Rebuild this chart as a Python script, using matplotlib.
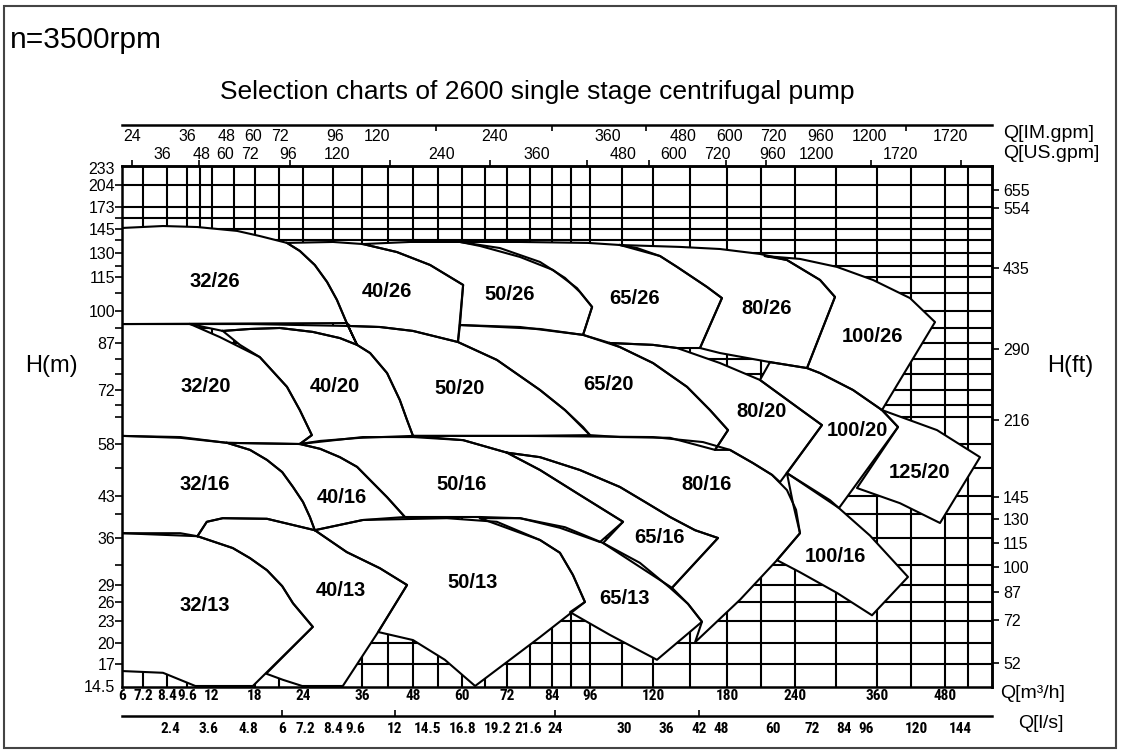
import numpy as np
import matplotlib
matplotlib.use("Agg")
import matplotlib.pyplot as plt
from matplotlib import font_manager
from matplotlib.ticker import FixedLocator, NullLocator, FixedFormatter
from matplotlib.patches import Rectangle

# ---------------------------------------------------------------- data
# axis tick values
Q_M3H_TICKS = [6, 7.2, 8.4, 9.6, 12, 18, 24, 36, 48, 60, 72, 84, 96, 120, 180, 240, 360, 480]
Q_LS_TICKS = [2.4, 3.6, 4.8, 6, 7.2, 8.4, 9.6, 12, 14.5, 16.8, 19.2, 21.6, 24, 30, 36, 42, 48,
              60, 72, 84, 96, 120, 144]
Q_IM_TICKS = [24, 36, 48, 60, 72, 96, 120, 240, 360, 480, 600, 720, 960, 1200, 1720]
Q_US_TICKS = [36, 48, 60, 72, 96, 120, 240, 360, 480, 600, 720, 960, 1200, 1720]
H_M_TICKS = [14.5, 17, 20, 23, 26, 29, 36, 43, 58, 72, 87, 100, 115, 130, 145, 173, 204, 233]
H_FT_TICKS = [52, 72, 87, 100, 115, 130, 145, 216, 290, 435, 554, 655]
# unlabeled tick marks
IM_MINOR = [180, 300, 420, 1440]
US_MINOR = [27, 47, 97, 180, 300, 430, 540, 760, 930, 1540, 2100]
LS_MARKS = [6, 12, 24, 42]
# background grid
Q_GRID = [7.2, 8.4, 9.6, 10.8, 12, 15, 18, 21, 24, 30, 36, 42, 48, 54, 60, 66, 72, 78, 84, 90,
          96, 108, 120, 150, 180, 210, 240, 300, 360, 420, 480, 520]
H_GRID = [17, 20, 23, 26, 29, 32, 36, 40, 43, 51, 58, 65, 68, 72, 77, 82, 87, 93, 100, 108,
          115, 122, 130, 138, 145, 159, 173, 204]

# pump regions: Q [m3/h], H [m]
P32_26_Q = [6, 8.2, 10.6, 15.5, 18.6, 22.0, 23.6, 26.4, 28.9, 30.9, 32.9, 35.0, 32.9, 6]
P32_26_H = [146.3, 148.8, 147.5, 143.8, 140.6, 136.3, 131.3, 122.5, 112.8, 104.9, 95.1, 86.4, 95.1, 94.7]
P40_26_Q = [22.0, 30.1, 36.2, 44.2, 52.2, 60.3, 59.0, 48.0, 40.2, 33.6, 32.9, 30.9, 28.9, 26.4, 23.6]
P40_26_H = [136.3, 136.9, 135.6, 130.6, 122.5, 111.5, 87.4, 91.9, 93.5, 93.9, 95.1, 104.9, 112.8, 122.5, 131.3]
P50_26_Q = [36.2, 47.3, 59.5, 70.1, 80.8, 88.1, 92.8, 96.8, 93.8, 80.8, 70.1, 59.5, 60.3, 52.2, 44.2]
P50_26_H = [135.6, 136.9, 136.9, 133.1, 124.4, 114.6, 108.4, 101.8, 90.3, 92.7, 93.5, 94.3, 111.5, 122.5, 130.6]
P65_26_Q = [59.5, 75.5, 95.4, 107.4, 113.9, 125.7, 139.5, 163.8, 175.9, 158.1, 139.5, 120.0, 103.6,
            93.8, 96.8, 91.9, 84.3, 75.5, 64.8]
P65_26_H = [136.9, 136.9, 136.3, 135.0, 133.1, 128.1, 121.3, 110.6, 105.7, 85.4, 85.4, 86.4, 87.0,
            90.3, 101.8, 110.1, 119.4, 127.5, 134.4]
P80_26_Q = [107.4, 141.9, 174.3, 209.1, 232.9, 276.6, 298.5, 257.6, 217.9, 174.3, 158.1, 175.9, 163.8, 139.5, 125.7]
P80_26_H = [135.0, 133.8, 132.5, 129.4, 125.6, 113.7, 106.2, 79.0, 80.9, 83.8, 85.4, 105.7, 110.6, 121.3, 128.1]
P100_26_Q = [213.5, 247.3, 301.5, 354.1, 418.2, 462.4, 368.8, 324.9, 276.6, 257.6, 298.5, 276.6, 232.9]
P100_26_H = [128.1, 126.3, 121.3, 113.7, 105.7, 95.5, 66.8, 72.0, 77.4, 79.0, 106.2, 113.7, 125.6]

P32_20_Q = [6, 9.9, 13.1, 18.6, 22.0, 23.6, 25.8, 23.6, 14.1, 9.2, 6]
P32_20_H = [94.7, 94.7, 89.4, 82.5, 73.0, 66.8, 60.3, 58.0, 58.3, 59.6, 60.1]
P40_20_Q = [13.5, 17.3, 21.1, 26.0, 31.5, 35.0, 37.9, 41.9, 44.9, 46.6, 48.0, 35.6, 27.5, 23.6,
            25.8, 23.6, 22.0, 18.6, 15.9]
P40_20_H = [91.9, 92.7, 93.1, 91.5, 89.0, 86.4, 83.8, 77.4, 69.4, 64.2, 60.1, 59.6, 58.8, 58.0,
            60.3, 66.8, 73.0, 82.5, 86.4]
P50_20_Q = [9.9, 17.3, 23.6, 33.6, 40.2, 48.0, 59.0, 69.3, 80.8, 88.1, 93.8, 96.0, 75.5, 59.5, 48.0,
            46.6, 44.9, 41.9, 37.9, 35.0, 31.5, 26.0, 21.1, 17.3, 13.5]
P50_20_H = [94.7, 94.7, 94.3, 93.9, 93.5, 91.9, 87.4, 81.6, 72.0, 66.8, 62.4, 60.3, 60.1, 60.1, 60.1,
            64.2, 69.4, 77.4, 83.8, 86.4, 89.0, 91.5, 93.1, 92.7, 91.9]
P65_20_Q = [59.5, 75.5, 93.8, 107.4, 120.0, 147.6, 166.2, 180.9, 170.3, 133.8, 107.4, 96.0, 88.1, 80.8, 69.3, 59.0]
P65_20_H = [94.3, 93.5, 90.3, 85.7, 80.6, 73.0, 66.8, 61.6, 56.3, 59.6, 59.8, 60.3, 66.8, 72.0, 81.6, 87.4]
P80_20_Q = [103.6, 120.0, 139.5, 174.3, 209.1, 242.9, 279.5, 247.3, 226.8, 219.7, 202.9, 182.6,
            170.3, 180.9, 166.2, 147.6, 120.0, 107.4]
P80_20_H = [87.0, 86.4, 85.4, 80.6, 75.2, 67.6, 62.9, 54.8, 47.0, 49.1, 52.5, 56.3,
            56.3, 61.6, 66.8, 73.0, 80.6, 85.7]
P100_20_Q = [217.9, 257.6, 276.6, 324.9, 368.8, 397.1, 304.4, 232.9, 279.5, 242.9, 209.1]
P100_20_H = [80.9, 79.0, 77.4, 72.0, 66.8, 62.4, 41.0, 49.6, 62.9, 67.6, 75.2]
P125_20_Q = [368.8, 465.9, 541.8, 471.2, 400.6, 330.7, 397.1]
P125_20_H = [66.8, 61.6, 54.2, 38.5, 41.8, 45.3, 62.4]

P32_16_Q = [6, 9.2, 14.1, 17.3, 19.5, 21.4, 22.75, 24.0, 25.4, 26.4, 19.5, 13.5, 11.5, 10.6, 6]
P32_16_H = [60.1, 59.8, 58.3, 56.3, 53.4, 49.9, 45.6, 42.0, 39.5, 37.3, 39.2, 39.3, 38.7, 36.3, 36.8]
P40_16_Q = [14.1, 23.6, 27.5, 31.5, 35.0, 37.9, 41.9, 46.1, 36.2, 26.4, 25.4, 24.0, 22.75, 21.4, 19.5, 17.3]
P40_16_H = [58.3, 58.0, 56.6, 54.2, 51.4, 47.6, 42.8, 39.5, 39.0, 37.3, 39.5, 42.0, 45.6, 49.9, 53.4, 56.3]
P50_16_Q = [23.6, 36.2, 48.0, 60.3, 72.0, 80.8, 92.8, 108.6, 99.8, 86.5, 75.5, 64.8, 46.1, 41.9,
            37.9, 35.0, 31.5, 27.5]
P50_16_H = [58.0, 59.8, 59.8, 59.0, 55.5, 50.5, 43.3, 38.7, 35.4, 37.7, 39.3, 39.5, 39.5, 42.8,
            47.6, 51.4, 54.2, 56.6]
P65_16_Q = [72.0, 80.8, 92.8, 107.4, 117.0, 133.8, 154.1, 172.7, 135.4, 101.0, 108.6, 92.8, 80.8]
P65_16_H = [55.5, 54.2, 50.5, 45.6, 42.0, 39.5, 37.3, 36.0, 28.5, 35.25, 38.7, 43.3, 50.5]
P80_16_Q = [48.0, 75.5, 120.0, 160.5, 182.6, 202.9, 219.7, 232.9, 241.5, 247.3, 224.1, 191.5, 154.1,
            159.7, 148.4, 135.4, 172.7, 154.1, 133.8, 117.0, 107.4, 92.8, 80.8, 72.0, 60.3]
P80_16_H = [60.1, 60.1, 59.8, 58.5, 56.3, 52.5, 49.1, 44.7, 40.7, 36.8, 32.7, 26.4, 20.1,
            22.9, 25.7, 28.5, 36.0, 37.3, 39.5, 42.0, 45.6, 50.5, 54.2, 55.5, 59.0]
P100_16_Q = [232.9, 291.2, 349.8, 414.7, 352.7, 301.5, 247.3, 224.1, 247.3, 238.2]
P100_16_H = [49.6, 42.3, 36.4, 30.2, 23.9, 27.6, 30.9, 32.7, 36.8, 41.8]

P32_13_Q = [6, 9.2, 10.6, 14.9, 17.3, 19.5, 21.4, 22.75, 26.0, 17.7, 10.4, 8.2, 6]
P32_13_H = [36.8, 36.8, 36.3, 34.5, 33.0, 31.2, 28.8, 25.8, 22.2, 14.5, 14.5, 16.0, 16.2]
P40_13_Q = [10.6, 11.5, 13.5, 19.5, 26.4, 32.9, 40.2, 46.6, 39.8, 32.1, 23.9, 21.5, 19.4, 26.0,
            22.75, 21.4, 19.5, 17.3, 14.9]
P40_13_H = [36.3, 38.7, 39.3, 39.2, 37.3, 33.9, 31.5, 29.0, 21.5, 14.5, 14.5, 15.2, 15.9, 22.2,
            25.8, 28.8, 31.2, 33.0, 34.5]
P50_13_Q = [26.4, 36.2, 56.3, 69.3, 80.8, 86.5, 90.6, 94.4, 80.8, 63.5, 55.8, 48.0, 39.8, 46.6, 40.2, 32.9]
P50_13_H = [37.3, 39.0, 39.3, 38.7, 35.7, 33.8, 30.5, 26.0, 20.8, 14.5, 17.6, 20.4, 21.5, 29.0, 31.5, 33.9]
P65_13_Q = [64.8, 75.5, 88.1, 101.0, 115.0, 133.8, 148.4, 159.7, 123.2, 103.6, 89.7, 94.4, 90.6, 86.5, 80.8]
P65_13_H = [39.3, 39.3, 37.8, 35.25, 32.3, 28.5, 25.7, 22.9, 17.6, 21.1, 24.4, 26.0, 30.5, 33.8, 35.7]

REGION_NAMES = ["32/26", "40/26", "50/26", "65/26", "80/26", "100/26",
                "32/20", "40/20", "50/20", "65/20", "80/20", "100/20", "125/20",
                "32/16", "40/16", "50/16", "65/16", "80/16", "100/16",
                "32/13", "40/13", "50/13", "65/13"]
LABEL_Q = [12.4, 41.9, 72.8, 113.1, 215.3, 352.7,
           11.4, 30.5, 59.3, 102.9, 210.9, 330.7, 435.9,
           11.3, 31.9, 59.8, 124.9, 163.8, 298.5,
           11.3, 31.7, 62.7, 109.3]
LABEL_H = [113.2, 108.4, 107.5, 105.3, 100.9, 89.8,
           73.0, 73.0, 72.6, 73.9, 66.3, 61.6, 49.9,
           46.2, 42.8, 46.2, 36.1, 46.2, 33.2,
           25.5, 28.0, 29.3, 26.6]

# ---------------------------------------------------------------- layout (pixels)
FIG_W, FIG_H, DPI = 1121, 752, 100
PLOT_L, PLOT_R, PLOT_T, PLOT_B = 122, 992, 166, 687
X_M3H_PX = [122, 143, 167, 187, 212, 255, 303, 362, 413, 462, 507, 552, 590, 653, 727, 795, 877, 945]
X_LS_PX = [170, 208, 248, 282, 305, 333, 355, 395, 428, 463, 498, 528, 555, 624, 666, 699, 721,
           773, 812, 844, 866, 916, 960]
X_IM_PX = [132, 187, 227, 253, 280, 335, 377, 495, 608, 683, 730, 773, 821, 869, 950]
X_US_PX = [162, 202, 225, 250, 288, 337, 442, 537, 623, 674, 717, 773, 816, 900]
Y_HM_PX = [686, 664, 643, 621, 602, 585, 538, 496, 444, 390, 343, 311, 277, 253, 229, 207, 185, 168]
Y_FT_PX = [663, 620, 592, 567, 543, 519, 497, 420, 349, 268, 208, 190]
IM_LINE_PX = 125
LS_LINE_PX = 716

PT = 72.0 / DPI

avail = {f.name for f in font_manager.fontManager.ttflist}
SANS = "Liberation Sans" if "Liberation Sans" in avail else "DejaVu Sans"
NARROW = next((n for n in ["Liberation Sans Narrow", "Arial Narrow", "Roboto Condensed",
                           "DejaVu Sans Condensed"] if n in avail), SANS)
plt.rcParams["font.family"] = [SANS, "DejaVu Sans"]


def make_scale(vals, pos, lo, hi):
    v = np.asarray(vals, float)
    p = np.asarray(pos, float)
    s0 = (v[1] - v[0]) / (p[1] - p[0])
    s1 = (v[-1] - v[-2]) / (p[-1] - p[-2])
    pe = np.concatenate([[lo - 600], p, [hi + 600]])
    ve = np.concatenate([[v[0] - (p[0] - (lo - 600)) * s0], v, [v[-1] + ((hi + 600) - p[-1]) * s1]])
    return (lambda x: np.interp(x, ve, pe)), (lambda y: np.interp(y, pe, ve))


def fmt(v):
    return "%g" % v


fig = plt.figure(figsize=(FIG_W / DPI, FIG_H / DPI), dpi=DPI)
ax = fig.add_axes([PLOT_L / FIG_W, 1 - PLOT_B / FIG_H,
                   (PLOT_R - PLOT_L) / FIG_W, (PLOT_B - PLOT_T) / FIG_H])

fx, ix = make_scale(Q_M3H_TICKS, X_M3H_PX, PLOT_L, PLOT_R)
fy, iy = make_scale(H_M_TICKS, [-p for p in Y_HM_PX], -PLOT_B, -PLOT_T)
ax.set_xscale("function", functions=(fx, ix))
ax.set_yscale("function", functions=(fy, iy))
ax.set_xlim(float(ix(PLOT_L)), float(ix(PLOT_R)))
ax.set_ylim(float(iy(-PLOT_B)), float(iy(-PLOT_T)))

# grid
for q in Q_GRID:
    ax.axvline(q, color="black", lw=1.5, zorder=1)
for h in H_GRID:
    ax.axhline(h, color="black", lw=1.5, zorder=1)

regions = [
    (P32_26_Q, P32_26_H), (P40_26_Q, P40_26_H), (P50_26_Q, P50_26_H), (P65_26_Q, P65_26_H),
    (P80_26_Q, P80_26_H), (P100_26_Q, P100_26_H),
    (P32_20_Q, P32_20_H), (P40_20_Q, P40_20_H), (P50_20_Q, P50_20_H), (P65_20_Q, P65_20_H),
    (P80_20_Q, P80_20_H), (P100_20_Q, P100_20_H), (P125_20_Q, P125_20_H),
    (P32_16_Q, P32_16_H), (P40_16_Q, P40_16_H), (P50_16_Q, P50_16_H), (P65_16_Q, P65_16_H),
    (P80_16_Q, P80_16_H), (P100_16_Q, P100_16_H),
    (P32_13_Q, P32_13_H), (P40_13_Q, P40_13_H), (P50_13_Q, P50_13_H), (P65_13_Q, P65_13_H),
]
for q, h in regions:
    ax.fill(q, h, facecolor="white", edgecolor="none", zorder=2)
for q, h in regions:
    ax.plot(list(q) + [q[0]], list(h) + [h[0]], color="black", lw=1.5, zorder=3,
            solid_joinstyle="round")
for name, lq, lh in zip(REGION_NAMES, LABEL_Q, LABEL_H):
    ax.text(lq, lh, name, ha="center", va="center", fontsize=14.5, fontweight="bold",
            family=SANS, zorder=5)

for s in ax.spines.values():
    s.set_linewidth(1.8)

# main axes ticks: bottom m3/h, left H(m)
ax.xaxis.set_major_locator(FixedLocator(Q_M3H_TICKS))
ax.xaxis.set_major_formatter(FixedFormatter([fmt(v) for v in Q_M3H_TICKS]))
ax.xaxis.set_minor_locator(NullLocator())
ax.tick_params(axis="x", which="major", length=0, pad=1.5, labelsize=11)
plt.setp(ax.get_xticklabels(), fontweight="bold", family=NARROW)
ax.yaxis.set_major_locator(FixedLocator(H_M_TICKS))
ax.yaxis.set_major_formatter(FixedFormatter([fmt(v) for v in H_M_TICKS]))
ax.yaxis.set_minor_locator(FixedLocator(H_GRID))
ax.yaxis.remove_overlapping_locs = False
ax.tick_params(axis="y", which="major", length=0, pad=5, labelsize=11.5)
ax.tick_params(axis="y", which="minor", left=False, right=True, length=5, width=1.2,
               direction="out")


def strip(a, keep):
    for k, s in a.spines.items():
        s.set_visible(k == keep)
        s.set_linewidth(1.8)


# top IM gpm axis (line above the grid, labels below it)
axi = ax.twiny()
f, i = make_scale(Q_IM_TICKS, X_IM_PX, PLOT_L, PLOT_R)
axi.set_xscale("function", functions=(f, i))
axi.set_xlim(float(i(PLOT_L)), float(i(PLOT_R)))
strip(axi, "top")
axi.spines["top"].set_position(("outward", (PLOT_T - IM_LINE_PX) * PT))
axi.xaxis.set_major_locator(FixedLocator(Q_IM_TICKS))
axi.xaxis.set_major_formatter(FixedFormatter([fmt(v) for v in Q_IM_TICKS]))
axi.xaxis.set_minor_locator(FixedLocator(IM_MINOR))
axi.tick_params(axis="x", which="major", length=0, pad=-19 * PT, labelsize=11.5)
axi.tick_params(axis="x", which="minor", length=4, width=1.2, direction="in")

# top US gpm axis (on the grid border)
axu = ax.twiny()
f, i = make_scale(Q_US_TICKS, X_US_PX, PLOT_L, PLOT_R)
axu.set_xscale("function", functions=(f, i))
axu.set_xlim(float(i(PLOT_L)), float(i(PLOT_R)))
strip(axu, "top")
axu.xaxis.set_major_locator(FixedLocator(Q_US_TICKS))
axu.xaxis.set_major_formatter(FixedFormatter([fmt(v) for v in Q_US_TICKS]))
axu.xaxis.set_minor_locator(FixedLocator(US_MINOR))
axu.tick_params(axis="x", which="major", length=0, pad=3, labelsize=11.5)
axu.tick_params(axis="x", which="minor", length=4, width=1.2, direction="out")

# bottom l/s axis
axl = ax.twiny()
f, i = make_scale(Q_LS_TICKS, X_LS_PX, PLOT_L, PLOT_R)
axl.set_xscale("function", functions=(f, i))
axl.set_xlim(float(i(PLOT_L)), float(i(PLOT_R)))
axl.xaxis.tick_bottom()
strip(axl, "bottom")
axl.spines["bottom"].set_position(("outward", (LS_LINE_PX - PLOT_B) * PT))
axl.xaxis.set_major_locator(FixedLocator(Q_LS_TICKS))
axl.xaxis.set_major_formatter(FixedFormatter([fmt(v) for v in Q_LS_TICKS]))
axl.xaxis.set_minor_locator(FixedLocator(LS_MARKS))
axl.xaxis.remove_overlapping_locs = False
axl.tick_params(axis="x", which="major", length=0, pad=4, labelsize=11)
axl.tick_params(axis="x", which="minor", length=4, width=1.2, direction="in")
plt.setp(axl.get_xticklabels(), fontweight="bold", family=NARROW)

# right H(ft) axis
axr = ax.twinx()
f, i = make_scale(H_FT_TICKS, [-p for p in Y_FT_PX], -PLOT_B, -PLOT_T)
axr.set_yscale("function", functions=(f, i))
axr.set_ylim(float(i(-PLOT_B)), float(i(-PLOT_T)))
strip(axr, "right")
axr.yaxis.set_major_locator(FixedLocator(H_FT_TICKS))
axr.yaxis.set_major_formatter(FixedFormatter([fmt(v) for v in H_FT_TICKS]))
axr.yaxis.set_minor_locator(NullLocator())
axr.tick_params(axis="y", which="major", length=5, width=1.2, direction="out", pad=3,
                labelsize=11.5)

# figure texts


def ftext(x, y, s, **kw):
    fig.text(x / FIG_W, 1 - y / FIG_H, s, **kw)


ftext(10, 40, "n=3500rpm", fontsize=21.5, va="center", ha="left")
ftext(537, 92, "Selection charts of 2600 single stage centrifugal pump", fontsize=19,
      va="center", ha="center")
ftext(1003, 134, "Q[IM.gpm]", fontsize=14, va="center", ha="left")
ftext(1003, 153, "Q[US.gpm]", fontsize=14, va="center", ha="left")
ftext(1000, 694, "Q[m³/h]", fontsize=14, va="center", ha="left")
ftext(1018, 723, "Q[l/s]", fontsize=14, va="center", ha="left")
ftext(51, 366, "H(m)", fontsize=17, va="center", ha="center")
ftext(1070, 366, "H(ft)", fontsize=17, va="center", ha="center")

fig.patches.append(Rectangle((4 / FIG_W, 4 / FIG_H), 1112 / FIG_W, 742 / FIG_H,
                             transform=fig.transFigure, fill=False, lw=1.5,
                             edgecolor="#444444"))

fig.savefig("out.png", dpi=DPI, facecolor="white")
